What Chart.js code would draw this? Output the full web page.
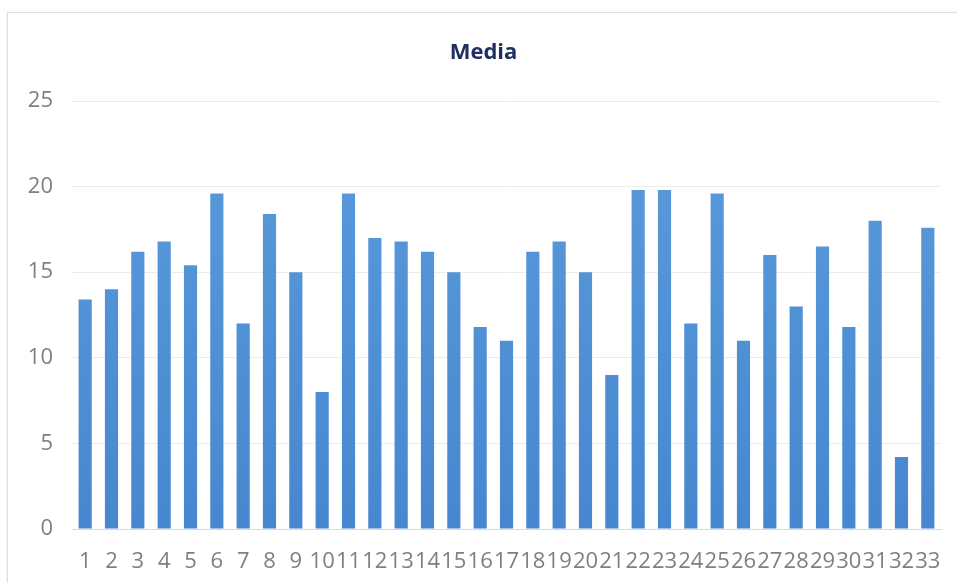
<!DOCTYPE html>
<html>
<head>
<meta charset="utf-8">
<script src="https://cdn.jsdelivr.net/npm/chart.js@4/dist/chart.umd.min.js"></script>
<style>
  html, body { margin: 0; padding: 0; background: #ffffff; overflow: hidden; }
  #frame { position: absolute; left: 7px; top: 12px; width: 960px; height: 600px; border: 1px solid #dedede; box-shadow: 0 0 2px rgba(0,0,0,0.08); background: #fff; }
  #wrap { position: absolute; left: 0; top: 0; width: 957px; height: 583px; }
</style>
</head>
<body>
<div id="frame"></div>
<div id="wrap"><canvas id="c" width="957" height="583"></canvas></div>
<script>
const chartTitle = "Media";
const categories = ["1","2","3","4","5","6","7","8","9","10","11","12","13","14","15","16","17","18","19","20","21","22","23","24","25","26","27","28","29","30","31","32","33"];
const mediaValues = [13.4, 14, 16.2, 16.8, 15.4, 19.6, 12, 18.4, 15, 8, 19.6, 17, 16.8, 16.2, 15, 11.8, 11, 16.2, 16.8, 15, 9, 19.8, 19.8, 12, 19.6, 11, 16, 13, 16.5, 11.8, 18, 4.2, 17.6];
const yMin = 0, yMax = 25, yStep = 5;

function barFill(ctx) {
  const chart = ctx.chart;
  const area = chart.chartArea;
  if (!area) return '#5193d6';
  const g = chart.ctx.createLinearGradient(0, area.top, 0, area.bottom);
  g.addColorStop(0, '#5c9cdc');
  g.addColorStop(1, '#4687cf');
  return g;
}

new Chart(document.getElementById('c'), {
  type: 'bar',
  data: {
    labels: categories,
    datasets: [{
      label: chartTitle,
      data: mediaValues,
      backgroundColor: barFill,
      borderWidth: 0,
      categoryPercentage: 1.0,
      barPercentage: 0.5
    }]
  },
  options: {
    responsive: false,
    animation: false,
    layout: { padding: { left: 26, right: 16, top: 0, bottom: 0 } },
    plugins: {
      legend: { display: false },
      tooltip: { enabled: false },
      title: {
        display: true,
        text: chartTitle,
        color: '#1f2f62',
        font: { family: '"Open Sans", sans-serif', size: 22, weight: 'bold' },
        padding: { top: 39.8, bottom: 34.8 }
      }
    },
    scales: {
      x: {
        grid: { display: false, drawTicks: false },
        border: { display: true, color: '#dadada', width: 1 },
        ticks: {
          color: '#7f7f7f',
          font: { family: '"Open Sans", sans-serif', size: 22 },
          padding: 20,
          autoSkip: false,
          maxRotation: 0,
          minRotation: 0
        },
        afterFit: (s) => { s.height = 54; s.paddingLeft = 0; s.paddingRight = 0; }
      },
      y: {
        min: yMin,
        max: yMax,
        grid: { color: '#ececec', lineWidth: 1, drawTicks: false },
        border: { display: false },
        ticks: {
          stepSize: yStep,
          color: '#7f7f7f',
          font: { family: '"Open Sans", sans-serif', size: 22 },
          padding: 19
        },
        afterFit: (s) => { s.width = 46; }
      }
    }
  }
});
</script>
</body>
</html>
